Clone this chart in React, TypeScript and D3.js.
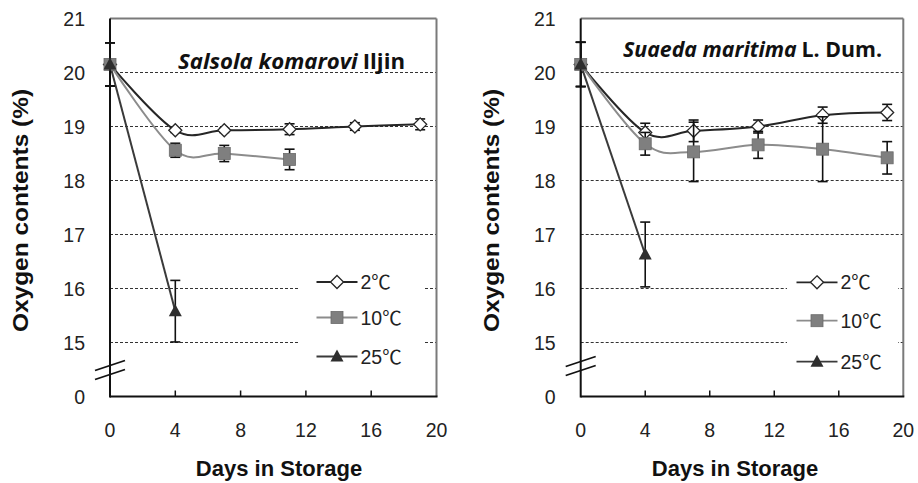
import * as d3 from 'd3'

// days sampled
const daysAll = [0, 4, 7, 11, 15, 19]
const daysShort = [0, 4, 7, 11]
const daysTwo = [0, 4]

// Salsola komarovi Iljin
const salsola2 = [20.15, 18.93, 18.93, 18.95, 19.0, 19.04]
const salsola2Err = [0.4, 0.04, 0.04, 0.1, 0.07, 0.1]
const salsola10 = [20.15, 18.56, 18.5, 18.39]
const salsola10Err = [0.4, 0.13, 0.15, 0.19]
const salsola25 = [20.15, 15.58]
const salsola25Err = [0.4, 0.57]

// Suaeda maritima L. Dum.
const suaeda2 = [20.15, 18.89, 18.92, 19.0, 19.21, 19.26]
const suaeda2Err = [0.41, 0.17, 0.2, 0.12, 0.15, 0.15]
const suaeda10 = [20.15, 18.68, 18.53, 18.66, 18.58, 18.42]
const suaeda10Err = [0.41, 0.21, 0.55, 0.25, 0.6, 0.3]
const suaeda25 = [20.15, 16.63]
const suaeda25Err = [0.41, 0.6]

const xTicks = [0, 4, 8, 12, 16, 20]
const yTicks = [15, 16, 17, 18, 19, 20, 21]
const legendLabels = ['2℃', '10℃', '25℃']

const FONT = 'Liberation Sans, Arial, "Noto Sans CJK SC", sans-serif'
const yScale = d3.scaleLinear().domain([14, 21]).range([396.5, 18.5])

type Kind = 'diamond' | 'square' | 'triangle'
const STYLE: Record<Kind, { line: string; fill: string; stroke: string; smooth: boolean }> = {
  diamond: { line: '#262626', fill: '#fff', stroke: '#262626', smooth: true },
  square: { line: '#8c8c8c', fill: '#7f7f7f', stroke: '#6a6a6a', smooth: true },
  triangle: { line: '#3a3a3a', fill: '#2e2e2e', stroke: '#2e2e2e', smooth: false },
}

function Marker({ kind, x, y }: { kind: Kind; x: number; y: number }) {
  const s = STYLE[kind]
  if (kind === 'diamond') {
    const r = 6.5
    return <path d={`M${x},${y - r}L${x + r},${y}L${x},${y + r}L${x - r},${y}Z`} fill={s.fill} stroke={s.stroke} strokeWidth={1.3} />
  }
  if (kind === 'square') {
    return <rect x={x - 6} y={y - 6} width={12} height={12} fill={s.fill} stroke={s.stroke} strokeWidth={0.8} />
  }
  return <path d={`M${x},${y - 7}L${x + 6.5},${y + 5}L${x - 6.5},${y + 5}Z`} fill={s.fill} />
}

type Series = { kind: Kind; days: number[]; vals: number[]; errs: number[] }

function Panel({ x0, x1, series, titleItalic, titleRest, titleX, titleY, titleW, legendX, legendYs, boxX, boxW, breakDy, xTitleX, yTitleX }: {
  x0: number; x1: number; series: Series[]; titleItalic: string; titleRest: string; titleX: number; titleY: number; titleW: number
  legendX: number; legendYs: number[]; boxX: number; boxW: number; breakDy: number; xTitleX: number; yTitleX: number
}) {
  const x = d3.scaleLinear().domain([0, 20]).range([x0, x1])
  const yTop = yScale(21)
  const yBot = yScale(14)
  const yb = (yScale(14.5) + breakDy)
  return (
    <g>
      {/* gridlines */}
      {yTicks.filter(t => t < 21).map(t => (
        <line key={t} x1={x0} x2={x1} y1={yScale(t)} y2={yScale(t)} stroke="#333" strokeWidth={1} strokeDasharray="3,2" />
      ))}
      {/* legend box */}
      <rect x={boxX} y={252} width={boxW} height={132} fill="#fff" />
      {/* frame */}
      <line x1={x0} x2={x1} y1={yTop} y2={yTop} stroke="#7a7a7a" strokeWidth={2} />
      <line x1={x1} x2={x1} y1={yTop} y2={yBot} stroke="#7a7a7a" strokeWidth={2} />
      <line x1={x0} x2={x0} y1={yTop} y2={yBot + 1} stroke="#111" strokeWidth={2} />
      <line x1={x0} x2={x1 + 1} y1={yBot} y2={yBot} stroke="#111" strokeWidth={2} />
      {xTicks.filter(t => t > 0 && t < 20).map(t => (
        <line key={t} x1={x(t)} x2={x(t)} y1={yBot} y2={yBot - 6} stroke="#111" strokeWidth={1.5} />
      ))}
      {/* axis break */}
      <line x1={x0 - 15} x2={x0 + 15} y1={yb + 1} y2={yb - 9} stroke="#111" strokeWidth={1.8} />
      <line x1={x0 - 15} x2={x0 + 15} y1={yb + 10} y2={yb} stroke="#111" strokeWidth={1.8} />
      {/* tick labels */}
      {yTicks.map(t => (
        <text key={t} x={x0 - 25} y={yScale(t) + 7} textAnchor="end" fontSize={19.5} fontFamily={FONT} fill="#222">{t}</text>
      ))}
      <text x={x0 - 25} y={yBot + 7} textAnchor="end" fontSize={19.5} fontFamily={FONT} fill="#222">0</text>
      {xTicks.map(t => (
        <text key={t} x={x(t)} y={437} textAnchor="middle" fontSize={19.5} fontFamily={FONT} fill="#222">{t}</text>
      ))}
      {/* axis titles */}
      <text x={xTitleX} y={476} textAnchor="middle" fontSize={22} fontWeight="bold" fontFamily={FONT} fill="#111">Days in Storage</text>
      <text transform={`translate(${yTitleX},210.5) rotate(-90)`} textAnchor="middle" fontSize={22} fontWeight="bold"
        fontFamily={FONT} fill="#111" textLength={243} lengthAdjust="spacingAndGlyphs">Oxygen contents (%)</text>
      {/* title */}
      <text x={titleX} y={titleY} fontSize={22} fontWeight="bold" fontFamily="'Open Sans', Lato, sans-serif" fill="#111"
        textLength={titleW} lengthAdjust="spacingAndGlyphs">
        <tspan fontStyle="italic">{titleItalic}</tspan><tspan dx={5}>{titleRest}</tspan>
      </text>
      {/* series */}
      {series.map((s, i) => {
        const pts = s.days.map((d, j) => [x(d), yScale(s.vals[j])] as [number, number])
        const line = d3.line().curve(STYLE[s.kind].smooth ? d3.curveCardinal.tension(0) : d3.curveLinear)
        return <path key={i} d={line(pts) || ''} fill="none" stroke={STYLE[s.kind].line} strokeWidth={2} />
      })}
      {series.map((s, i) => (
        <g key={i}>
          {s.days.map((d, j) => {
            const cx = x(d)
            const lo = yScale(s.vals[j] - s.errs[j])
            const hi = yScale(s.vals[j] + s.errs[j])
            return (
              <g key={j} stroke="#111" strokeWidth={1.6}>
                <line x1={cx} x2={cx} y1={lo} y2={hi} />
                <line x1={cx - 5} x2={cx + 5} y1={lo} y2={lo} />
                <line x1={cx - 5} x2={cx + 5} y1={hi} y2={hi} />
              </g>
            )
          })}
          {s.days.map((d, j) => <Marker key={j} kind={s.kind} x={x(d)} y={yScale(s.vals[j])} />)}
        </g>
      ))}
      {/* legend */}
      {series.map((s, i) => (
        <g key={i}>
          <line x1={legendX} x2={legendX + 41} y1={legendYs[i]} y2={legendYs[i]} stroke={STYLE[s.kind].line} strokeWidth={1.8} />
          <Marker kind={s.kind} x={legendX + 20.5} y={legendYs[i]} />
          <text x={legendX + 44} y={legendYs[i] + 7} fontSize={19.5} fontFamily={FONT} fill="#222">{legendLabels[i]}</text>
        </g>
      ))}
    </g>
  )
}

export default function App() {
  const left: Series[] = [
    { kind: 'diamond', days: daysAll, vals: salsola2, errs: salsola2Err },
    { kind: 'square', days: daysShort, vals: salsola10, errs: salsola10Err },
    { kind: 'triangle', days: daysTwo, vals: salsola25, errs: salsola25Err },
  ]
  const right: Series[] = [
    { kind: 'diamond', days: daysAll, vals: suaeda2, errs: suaeda2Err },
    { kind: 'square', days: daysAll, vals: suaeda10, errs: suaeda10Err },
    { kind: 'triangle', days: daysTwo, vals: suaeda25, errs: suaeda25Err },
  ]
  return (
    <svg width={918} height={483} style={{ position: 'absolute', left: 0, top: 0, background: '#fff' }}>
      <Panel x0={110} x1={436.5} series={left} titleItalic="Salsola  komarovi" titleRest="Iljin" titleX={178} titleY={68.5} titleW={227}
        legendX={316.5} legendYs={[282, 317.5, 356.5]} boxX={300} boxW={123} breakDy={0} xTitleX={279} yTitleX={28} />
      <Panel x0={580.7} x1={903.3} series={right} titleItalic="Suaeda maritima" titleRest="L. Dum." titleX={623} titleY={57} titleW={259}
        legendX={796.5} legendYs={[282.3, 320.7, 361.7]} boxX={787} boxW={111} breakDy={-4} xTitleX={735} yTitleX={498.5} />
    </svg>
  )
}
